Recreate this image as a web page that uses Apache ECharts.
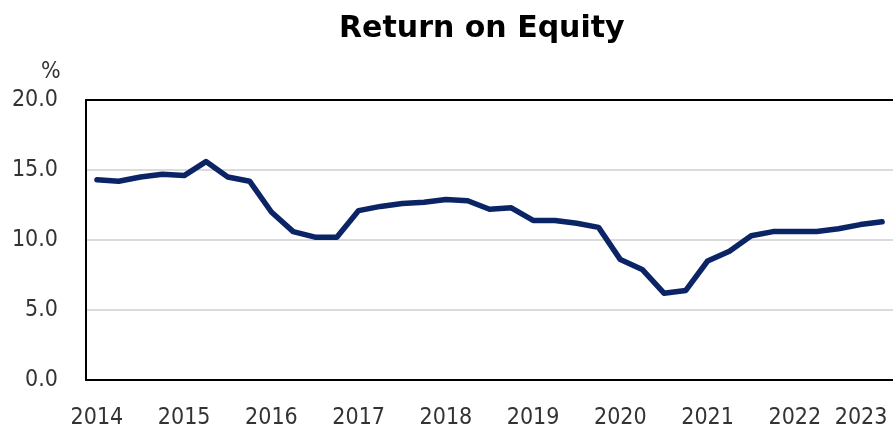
<!DOCTYPE html>
<html>
<head>
<meta charset="utf-8">
<script src="https://cdn.jsdelivr.net/npm/echarts@6/dist/echarts.min.js"></script>
<style>
  html, body { margin: 0; padding: 0; background: #fff; }
  #chart { width: 893px; height: 432px; }
</style>
</head>
<body>
<div id="chart"></div>
<script>
// quarterly, 2014 Q1 - 2023 Q1
var quarters = [];
for (var y = 2014; y <= 2023; y++) {
  for (var q = 1; q <= 4; q++) {
    if (y === 2023 && q > 1) break;
    quarters.push(y + 'Q' + q);
  }
}

var roeValues = [
  14.3, 14.2, 14.5, 14.7, 14.6, 15.6, 14.5, 14.2,
  12.0, 10.6, 10.2, 10.2, 12.1, 12.4, 12.6, 12.7,
  12.9, 12.8, 12.2, 12.3, 11.4, 11.4, 11.2, 10.9,
  8.6, 7.9, 6.2, 6.4, 8.5, 9.2, 10.3, 10.6,
  10.6, 10.6, 10.8, 11.1, 11.3
];

var yTicks = [0, 5, 10, 15, 20];

var labelFont = 'DejaVu Sans Condensed';
var labelColor = '#333';
var labelSize = 23;

var chart = echarts.init(document.getElementById('chart'));

chart.setOption({
  animation: false,
  backgroundColor: '#fff',
  title: [{
    text: 'Return on Equity',
    left: 334,
    top: 9,
    textStyle: {
      fontFamily: 'DejaVu Sans',
      fontWeight: 'bold',
      fontSize: 30,
      color: '#000'
    }
  }, {
    text: '%',
    left: 36,
    top: 56,
    textStyle: {
      fontFamily: labelFont,
      fontWeight: 'normal',
      fontSize: labelSize,
      color: labelColor
    }
  }],
  grid: {
    left: 86,
    right: -2,
    top: 100,
    bottom: 52
  },
  xAxis: [{
    type: 'category',
    data: quarters,
    boundaryGap: true,
    axisLine: { show: true, lineStyle: { color: '#000', width: 2 } },
    axisTick: { show: false },
    axisLabel: {
      interval: 3,
      margin: 27,
      fontFamily: labelFont,
      fontSize: labelSize,
      color: labelColor,
      formatter: function (v, i) {
        var yr = v.slice(0, 4);
        // last label pushed left so it stays inside the picture
        if (i === quarters.length - 1) return '{last|' + yr + '}';
        return yr;
      },
      rich: {
        last: {
          fontFamily: labelFont,
          fontSize: labelSize,
          color: labelColor,
          padding: [0, 42, 0, 0]
        }
      }
    },
    splitLine: { show: false }
  }, {
    type: 'category',
    data: quarters,
    position: 'top',
    axisLine: { show: true, lineStyle: { color: '#000', width: 2 } },
    axisTick: { show: false },
    axisLabel: { show: false }
  }],
  yAxis: {
    type: 'value',
    min: yTicks[0],
    max: yTicks[yTicks.length - 1],
    interval: 5,
    axisLine: { show: true, lineStyle: { color: '#000', width: 2 } },
    axisTick: { show: false },
    axisLabel: {
      margin: 28,
      fontFamily: labelFont,
      fontSize: labelSize,
      color: labelColor,
      formatter: function (v) { return v.toFixed(1); }
    },
    splitLine: { show: true, lineStyle: { color: '#cfcfcf', width: 1.5 } }
  },
  series: [{
    name: 'Return on Equity',
    type: 'line',
    data: roeValues,
    symbol: 'none',
    lineStyle: { color: '#0b2466', width: 5.5, cap: 'round', join: 'round' }
  }]
});
</script>
</body>
</html>
